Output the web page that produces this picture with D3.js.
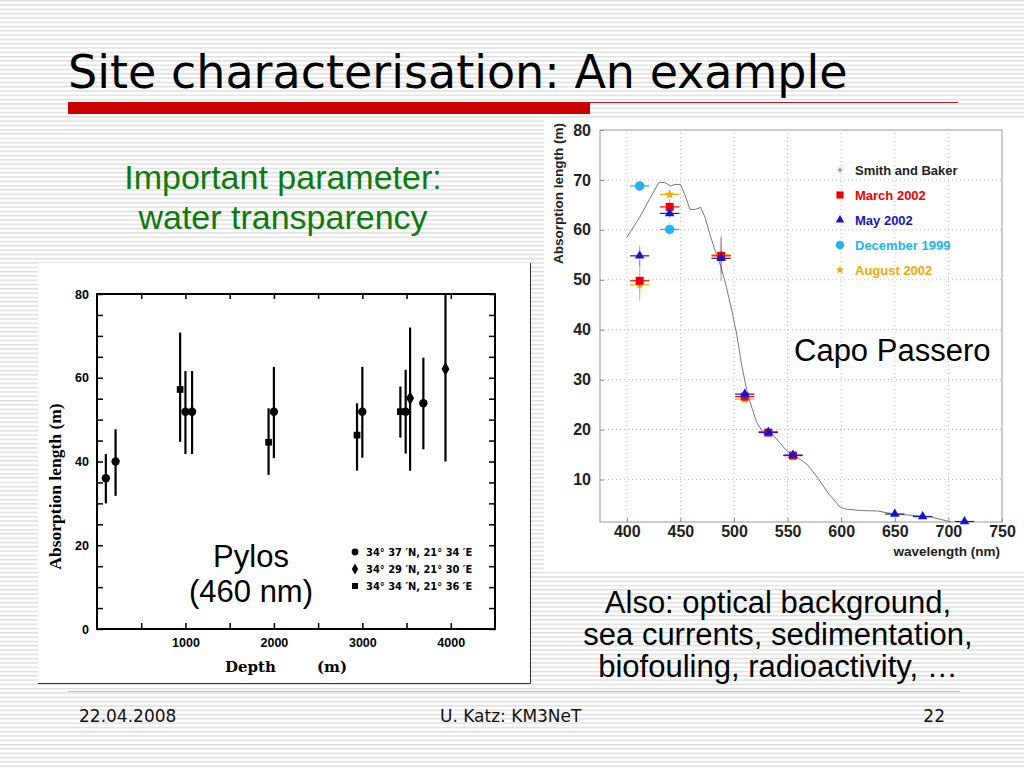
<!DOCTYPE html>
<html>
<head>
<meta charset="utf-8">
<title>Site characterisation</title>
<script src="https://d3js.org/d3.v7.min.js"></script>
<style>
  body { margin: 0; background: #fff; }
  svg { display: block; }
  .sans { font-family: "Liberation Sans", Arial, Helvetica, sans-serif; }
  .verd { font-family: "DejaVu Sans", Verdana, sans-serif; }
  .pylos-axis text { font-family: "Liberation Sans", Arial, sans-serif; font-weight: bold; font-size: 12.5px; }
  .capo-axis text { font-family: "Liberation Sans", Arial, sans-serif; font-weight: bold; font-size: 16px; fill: #222; }
</style>
</head>
<body>
<div id="slide"></div>
<script>
const W = 1024, H = 768;

// --- Pylos (460 nm): depth (m) vs absorption length (m)
const pylosDepth = [100, 210, 940, 1000, 1075, 1940, 2000, 2940, 3000, 3430, 3490, 3540, 3690, 3940];
const pylosValue = [36, 40, 57.2, 51.9, 51.9, 44.6, 51.9, 46.3, 51.9, 51.9, 51.9, 55.1, 53.9, 62.1];
const pylosLow   = [30, 31.8, 44.7, 41.8, 41.8, 36.8, 40.8, 37.8, 40.9, 45.7, 41.9, 37.8, 42.9, 40];
const pylosHigh  = [41.8, 47.7, 70.8, 61.6, 61.6, 52.7, 62.6, 53.9, 62.6, 57.9, 61.9, 72, 64.8, 80];
const pylosSite  = [0, 0, 2, 0, 0, 2, 0, 2, 0, 2, 0, 1, 0, 1];
const pylosSites = ["34\u00b0 37 \u2032N, 21\u00b0 34 \u2032E", "34\u00b0 29 \u2032N, 21\u00b0 30 \u2032E", "34\u00b0 34 \u2032N, 21\u00b0 36 \u2032E"];
const pylosYTicks = d3.range(0, 81, 5);
const pylosXTicks = d3.range(500, 4500, 500);

// --- Capo Passero: wavelength (nm) vs absorption length (m)
const sbWave = [400, 412, 421, 430, 435, 441, 445, 450, 454, 459, 464, 469, 473, 477.5, 482, 488, 493, 498, 502.5, 507, 512, 516.5, 521, 526, 537, 549, 558.5, 568, 577.5, 588.5, 599, 604, 618, 634, 649, 668, 684, 702.5];
const sbAbs  = [58.5, 62.5, 66.1, 69.5, 69.5, 68.8, 69.1, 69.1, 67.1, 64.1, 64.1, 64.5, 62.5, 59.1, 56.1, 52.5, 48.5, 43.8, 39.1, 33.1, 27.8, 24.5, 21.5, 19.8, 18.8, 15.8, 14.5, 13.1, 10.5, 7.1, 4.5, 4.1, 3.8, 3.7, 3.1, 2.8, 2.5, 1.5];

const marchWave = [412, 440, 488, 510, 532, 555];
const marchAbs  = [49.8, 64.6, 54.8, 26.6, 19.4, 14.8];
const marchErr  = [4, 1.5, 3.5, 1, 0.6, 0.6];
const mayWave = [412, 440, 488, 510, 532, 555, 650, 676, 715];
const mayAbs  = [54.8, 63.3, 54.3, 27.1, 19.5, 14.9, 3.1, 2.6, 1.6];
const mayErr  = [2, 1, 4.5, 1, 0.6, 0.6, 0.4, 0.4, 0.3];
const decWave = [412, 440];
const decAbs  = [68.8, 60.1];
const decErr  = [1, 1.5];
const augWave = [412, 440, 488, 510, 532];
const augAbs  = [49.0, 67.1, 55.0, 26.1, 19.6];
const augErr  = [1.5, 1, 2, 1, 0.6];
const waveHalfWidth = 9;
const capoXTicks = d3.range(400, 751, 50);
const capoYTicks = d3.range(10, 81, 10);

const svg = d3.select('#slide').append('svg')
  .attr('width', W)
  .attr('height', H);

// striped slide background
const defs = svg.append('defs');
defs.append('pattern')
  .attr('id', 'stripes')
  .attr('patternUnits', 'userSpaceOnUse')
  .attr('width', 10).attr('height', 4.3)
  .append('rect')
  .attr('width', 10).attr('height', 1.4)
  .attr('fill', '#dedede');
svg.append('rect').attr('width', W).attr('height', H).attr('fill', '#fff');
svg.append('rect').attr('width', W).attr('height', H).attr('fill', 'url(#stripes)');

// title
svg.append('text').attr('class', 'verd')
  .attr('x', 68).attr('y', 88)
  .attr('font-size', 46)
  .attr('fill', '#000')
  .text('Site characterisation: An example');
svg.append('rect').attr('x', 68).attr('y', 102).attr('width', 522).attr('height', 12).attr('fill', '#cc0000');
svg.append('line').attr('x1', 590).attr('x2', 958).attr('y1', 102.5).attr('y2', 102.5)
  .attr('stroke', '#b02020').attr('stroke-width', 1);

// green text
svg.append('text').attr('class', 'sans')
  .attr('x', 283).attr('text-anchor', 'middle')
  .attr('font-size', 34).attr('fill', '#0e7a0e')
  .selectAll('tspan')
  .data(['Important parameter:', 'water transparency'])
  .join('tspan')
    .attr('x', 283)
    .attr('y', (d, i) => 189 + i * 40)
    .text(d => d);

// ================= Pylos chart =================
const px = d3.scaleLinear().domain([0, 4500]).range([97, 495]);
const py = d3.scaleLinear().domain([0, 80]).range([629, 294]);

const left = svg.append('g');
left.append('rect').attr('x', 38).attr('y', 263).attr('width', 493).attr('height', 421).attr('fill', '#fff');
left.append('path').attr('d', 'M38,683.5H530.5V263').attr('fill', 'none').attr('stroke', '#333');

left.append('g').attr('class', 'pylos-axis')
  .attr('transform', `translate(${px(0)},0)`)
  .call(d3.axisLeft(py).tickValues(pylosYTicks).tickSizeInner(-6).tickSizeOuter(0).tickPadding(8)
    .tickFormat(d => d % 20 ? '' : d))
  .call(g => g.select('.domain').remove())
  .call(g => g.selectAll('line').attr('stroke-width', 1.5));
left.append('g').attr('class', 'pylos-axis')
  .attr('transform', `translate(${px(4500)},0)`)
  .call(d3.axisRight(py).tickValues(pylosYTicks).tickSizeInner(-6).tickSizeOuter(0).tickFormat(''))
  .call(g => g.select('.domain').remove())
  .call(g => g.selectAll('line').attr('stroke-width', 1.5));
left.append('g').attr('class', 'pylos-axis')
  .attr('transform', `translate(0,${py(0)})`)
  .call(d3.axisBottom(px).tickValues(pylosXTicks).tickSizeInner(-6).tickSizeOuter(0).tickPadding(9)
    .tickFormat(d => d % 1000 ? '' : d))
  .call(g => g.select('.domain').remove())
  .call(g => g.selectAll('line').attr('stroke-width', 1.5));
left.append('g').attr('class', 'pylos-axis')
  .attr('transform', `translate(0,${py(80)})`)
  .call(d3.axisTop(px).tickValues(pylosXTicks).tickSizeInner(-5).tickSizeOuter(0).tickFormat(''))
  .call(g => g.select('.domain').remove())
  .call(g => g.selectAll('line').attr('stroke-width', 1.5));

left.append('rect')
  .attr('x', px(0)).attr('y', py(80))
  .attr('width', px(4500) - px(0)).attr('height', py(0) - py(80))
  .attr('fill', 'none').attr('stroke', '#000').attr('stroke-width', 2);

// axis titles
left.append('text')
  .attr('transform', `translate(61,${(py(0) + py(80)) / 2 + 25}) rotate(-90)`)
  .attr('text-anchor', 'middle')
  .attr('font-family', '"Liberation Serif", "Times New Roman", serif')
  .attr('font-weight', 'bold').attr('font-size', 17.5)
  .text('Absorption length (m)');
left.append('text')
  .attr('x', 225).attr('y', 672)
  .attr('font-family', '"DejaVu Serif", serif')
  .attr('font-weight', 'bold').attr('font-size', 15)
  .text('Depth');
left.append('text')
  .attr('x', 317).attr('y', 672)
  .attr('font-family', '"DejaVu Serif", serif')
  .attr('font-weight', 'bold').attr('font-size', 15)
  .text('(m)');

const pylosSymbols = [d3.symbolCircle, d3.symbolDiamond, d3.symbolSquare];
const pylosSizes = [55, 55, 45];
const pylosData = pylosDepth.map((d, i) => ({
  depth: d, value: pylosValue[i], low: pylosLow[i], high: pylosHigh[i], site: pylosSite[i]
}));

left.append('g')
  .selectAll('line')
  .data(pylosData)
  .join('line')
    .attr('x1', d => px(d.depth)).attr('x2', d => px(d.depth))
    .attr('y1', d => py(d.low)).attr('y2', d => py(d.high))
    .attr('stroke', '#000').attr('stroke-width', 2.2);
left.append('g')
  .selectAll('path')
  .data(pylosData)
  .join('path')
    .attr('transform', d => `translate(${px(d.depth)},${py(d.value)})`)
    .attr('d', d => d3.symbol(pylosSymbols[d.site], pylosSizes[d.site])())
    .attr('fill', '#000');

// legend
const pyLeg = left.append('g').attr('transform', 'translate(355,552)');
pyLeg.selectAll('path')
  .data(pylosSites)
  .join('path')
    .attr('transform', (d, i) => `translate(0,${i * 17})`)
    .attr('d', (d, i) => d3.symbol(pylosSymbols[i], 36)())
    .attr('fill', '#000');
pyLeg.selectAll('text')
  .data(pylosSites)
  .join('text')
    .attr('x', 11).attr('y', (d, i) => i * 17 + 4)
    .attr('font-family', '"DejaVu Sans Condensed", "DejaVu Sans", sans-serif')
    .attr('font-weight', 'bold').attr('font-size', 11)
    .text(d => d);

left.append('text').attr('class', 'sans')
  .attr('text-anchor', 'middle').attr('font-size', 31)
  .selectAll('tspan')
  .data(['Pylos', '(460 nm)'])
  .join('tspan')
    .attr('x', 251)
    .attr('y', (d, i) => 567 + i * 35)
    .text(d => d);

// ================= Capo Passero chart =================
const cx = d3.scaleLinear().domain([375, 750]).range([600, 1002]);
const cy = d3.scaleLinear().domain([1.5, 80]).range([522, 130]);

const right = svg.append('g');
right.append('rect').attr('x', 544).attr('y', 118).attr('width', 480).attr('height', 452).attr('fill', '#fff');

// dotted grid
right.append('g')
  .selectAll('line')
  .data(capoXTicks.slice(0, -1))
  .join('line')
    .attr('x1', d => cx(d)).attr('x2', d => cx(d))
    .attr('y1', cy(1.5)).attr('y2', cy(80))
    .attr('stroke', '#bbb').attr('stroke-dasharray', '1,3');
right.append('g')
  .selectAll('line')
  .data(capoYTicks.slice(0, -1))
  .join('line')
    .attr('x1', cx(375)).attr('x2', cx(750))
    .attr('y1', d => cy(d)).attr('y2', d => cy(d))
    .attr('stroke', '#bbb').attr('stroke-dasharray', '1,3');

right.append('g').attr('class', 'capo-axis')
  .attr('transform', `translate(${cx(375)},0)`)
  .call(d3.axisLeft(cy).tickValues(capoYTicks).tickSizeInner(-4).tickSizeOuter(0).tickPadding(9))
  .call(g => g.select('.domain').remove())
  .call(g => g.selectAll('line').attr('stroke', '#888'));
right.append('g').attr('class', 'capo-axis')
  .attr('transform', `translate(0,${cy(1.5)})`)
  .call(d3.axisBottom(cx).tickValues(capoXTicks).tickSizeInner(-4).tickSizeOuter(0).tickPadding(4))
  .call(g => g.select('.domain').remove())
  .call(g => g.selectAll('line').attr('stroke', '#888'));
right.append('rect')
  .attr('x', cx(375)).attr('y', cy(80))
  .attr('width', cx(750) - cx(375)).attr('height', cy(1.5) - cy(80))
  .attr('fill', 'none').attr('stroke', '#999').attr('stroke-width', 1);

right.append('text').attr('class', 'sans')
  .attr('transform', 'translate(563,123) rotate(-90)')
  .attr('text-anchor', 'end')
  .attr('font-weight', 'bold').attr('font-size', 13.5).attr('fill', '#222')
  .text('Absorption length (m)');
right.append('text').attr('class', 'sans')
  .attr('x', 1000).attr('y', 556)
  .attr('text-anchor', 'end')
  .attr('font-weight', 'bold').attr('font-size', 13.5).attr('fill', '#222')
  .text('wavelength (nm)');

// Smith and Baker curve
right.append('path')
  .datum(sbWave.map((w, i) => [w, sbAbs[i]]))
  .attr('fill', 'none').attr('stroke', '#777').attr('stroke-width', 1)
  .attr('d', d3.line().x(d => cx(d[0])).y(d => cy(d[1])));

const capoSeries = [
  { name: 'August 2002', color: '#f5a800', symbol: d3.symbolStar, size: 30, wave: augWave, abs: augAbs, err: augErr },
  { name: 'December 1999', color: '#22b4ee', symbol: d3.symbolCircle, size: 70, wave: decWave, abs: decAbs, err: decErr },
  { name: 'March 2002', color: '#ee0000', symbol: d3.symbolSquare, size: 64, wave: marchWave, abs: marchAbs, err: marchErr },
  { name: 'May 2002', color: '#1515cc', symbol: d3.symbolTriangle, size: 40, wave: mayWave, abs: mayAbs, err: mayErr }
];

capoSeries.forEach(s => {
  const pts = s.wave.map((w, i) => ({ w: w, a: s.abs[i], e: s.err[i] }));
  const g = right.append('g');
  g.selectAll('.xe')
    .data(pts)
    .join('line').attr('class', 'xe')
      .attr('x1', d => cx(d.w - waveHalfWidth)).attr('x2', d => cx(d.w + waveHalfWidth))
      .attr('y1', d => cy(d.a)).attr('y2', d => cy(d.a))
      .attr('stroke', s.color).attr('stroke-width', 1.2);
  g.selectAll('.ye')
    .data(pts)
    .join('line').attr('class', 'ye')
      .attr('x1', d => cx(d.w)).attr('x2', d => cx(d.w))
      .attr('y1', d => cy(Math.max(1.5, d.a - d.e))).attr('y2', d => cy(d.a + d.e))
      .attr('stroke', s.color).attr('stroke-width', 1.2).attr('opacity', 0.35);
  g.selectAll('path')
    .data(pts)
    .join('path')
      .attr('transform', d => `translate(${cx(d.w)},${cy(d.a)})`)
      .attr('d', d3.symbol(s.symbol, s.size)())
      .attr('fill', s.color);
});

// legend
const legendItems = [{ name: 'Smith and Baker', color: '#222', marker: '#999' }]
  .concat(['March 2002', 'May 2002', 'December 1999', 'August 2002']
    .map(n => { const s = capoSeries.find(c => c.name === n); return { name: n, color: s.color, marker: s.color, s: s }; }));
const leg = right.append('g').attr('transform', 'translate(840,170)');
leg.selectAll('path')
  .data(legendItems)
  .join('path')
    .attr('transform', (d, i) => `translate(0,${i * 25})`)
    .attr('d', d => d.s ? d3.symbol(d.s.symbol, d.s.size * 0.8)() : d3.symbol(d3.symbolCross, 14)())
    .attr('fill', d => d.marker);
leg.selectAll('text')
  .data(legendItems)
  .join('text').attr('class', 'sans')
    .attr('x', 15).attr('y', (d, i) => i * 25 + 5)
    .attr('font-weight', 'bold').attr('font-size', 13)
    .attr('fill', d => d.color)
    .text(d => d.name);

right.append('text').attr('class', 'sans')
  .attr('x', 794).attr('y', 361)
  .attr('font-size', 31)
  .text('Capo Passero');

// bottom text
svg.append('text').attr('class', 'sans')
  .attr('text-anchor', 'middle').attr('font-size', 31)
  .selectAll('tspan')
  .data(['Also: optical background,', 'sea currents, sedimentation,', 'biofouling, radioactivity, \u2026'])
  .join('tspan')
    .attr('x', 778)
    .attr('y', (d, i) => 613 + i * 32)
    .text(d => d);

// footer
svg.append('line').attr('x1', 68).attr('x2', 960).attr('y1', 691.5).attr('y2', 691.5)
  .attr('stroke', '#c9b5b5').attr('stroke-width', 1);
const foot = svg.append('g').attr('class', 'verd').attr('font-size', 17).attr('fill', '#111');
foot.append('text').attr('x', 79).attr('y', 722).text('22.04.2008');
foot.append('text').attr('x', 440).attr('y', 722).text('U. Katz: KM3NeT');
foot.append('text').attr('x', 945).attr('y', 722).attr('text-anchor', 'end').text('22');
</script>
</body>
</html>
